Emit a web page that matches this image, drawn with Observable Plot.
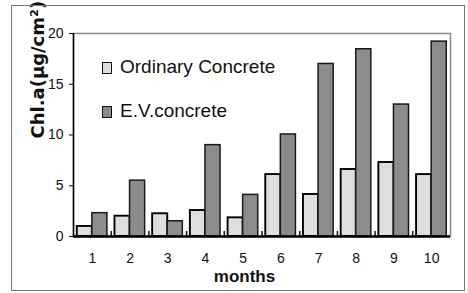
<!DOCTYPE html>
<html><head><meta charset="utf-8">
<script src="https://cdn.jsdelivr.net/npm/d3@7"></script>
<script src="https://cdn.jsdelivr.net/npm/@observablehq/plot@0.6"></script>
<style>
body{margin:0;background:#fff;}
#wrap{position:relative;width:468px;height:293px;overflow:hidden;}
#border{position:absolute;left:11px;top:5px;width:454px;height:286px;border:1.5px solid #777;box-sizing:border-box;pointer-events:none;}
.leg{position:absolute;left:102px;font-family:"Liberation Sans",Arial,sans-serif;font-size:19px;line-height:19px;color:#111;white-space:nowrap;}
.leg i{display:inline-block;width:8px;height:10px;border:1.5px solid #111;vertical-align:-1px;margin-right:8px;}
#plot svg{position:absolute;left:0;top:0;}
</style></head>
<body>
<div id="wrap"><div id="plot"></div><div id="border"></div><div id="legend"></div></div>
<script>
const months = [1, 2, 3, 4, 5, 6, 7, 8, 9, 10];
const ordinary = [0.99, 2.0, 2.24, 2.56, 1.84, 6.1, 4.14, 6.6, 7.29, 6.1];
const ev = [2.3, 5.5, 1.5, 9.0, 4.1, 10.05, 17.0, 18.45, 13.0, 19.2];
const yTicks = [0, 5, 10, 15, 20];
const seriesNames = ["Ordinary Concrete", "E.V.concrete"];
const seriesColors = ["#dedede", "#8c8c8c"];

const rows = months.map((m, i) => ({month: m, ordinary: ordinary[i], ev: ev[i]}));
const half = 0.4;
const xDomain = [0.5, 10.5];

const chart = Plot.plot({
  width: 468, height: 293,
  marginLeft: 73, marginRight: 18, marginTop: 33, marginBottom: 57,
  style: {background: "transparent", fontFamily: "Liberation Sans, Arial, sans-serif", fontSize: "14px", color: "#111"},
  x: {domain: xDomain},
  y: {domain: [0, 20]},
  marks: [
    Plot.frame({stroke: "#888", strokeWidth: 1.5}),
    Plot.rect(rows, {x1: d => d.month - half, x2: "month", y1: () => 0, y2: "ordinary", fill: seriesColors[0], stroke: "#000", strokeWidth: 1.9}),
    Plot.rect(rows, {x1: "month", x2: d => d.month + half, y1: () => 0, y2: "ev", fill: seriesColors[1], stroke: "#1a1a1a", strokeWidth: 1.5}),
    Plot.ruleX(months.slice(0, -1), {x: d => d + 0.5, y1: () => 0, y2: () => 0.5, stroke: "#111", strokeWidth: 1.5}),
    Plot.ruleY([0], {stroke: "#000", strokeWidth: 2.5}),
    Plot.ruleX([xDomain[0]], {stroke: "#000", strokeWidth: 1.5}),
    Plot.axisX(months, {tickSize: 0, tickPadding: 17, fontSize: 14, label: null}),
    Plot.axisY(yTicks, {tickSize: 4, tickPadding: 6, fontSize: 14, label: null}),
    Plot.text(["months"], {frameAnchor: "bottom", dx: -17.5, dy: 40.5, lineAnchor: "middle", fontWeight: "bold", fontSize: 17, fontFamily: "Liberation Sans, Arial, sans-serif"}),
    Plot.text(["Chl.a(μg/cm²)"], {frameAnchor: "left", dx: -35.5, dy: 3.5, rotate: -90, lineAnchor: "middle", fontWeight: "bold", fontSize: 18, fontFamily: "DejaVu Sans, sans-serif", letterSpacing: 1.5})
  ]
});
document.getElementById("plot").appendChild(chart);

const legend = document.getElementById("legend");
const tops = [56.6, 100.6];
seriesNames.forEach((name, i) => {
  const d = document.createElement("div");
  d.className = "leg";
  d.style.top = tops[i] + "px";
  const sw = document.createElement("i");
  sw.style.background = seriesColors[i];
  d.appendChild(sw);
  d.appendChild(document.createTextNode(name));
  legend.appendChild(d);
});
</script>
</body></html>
